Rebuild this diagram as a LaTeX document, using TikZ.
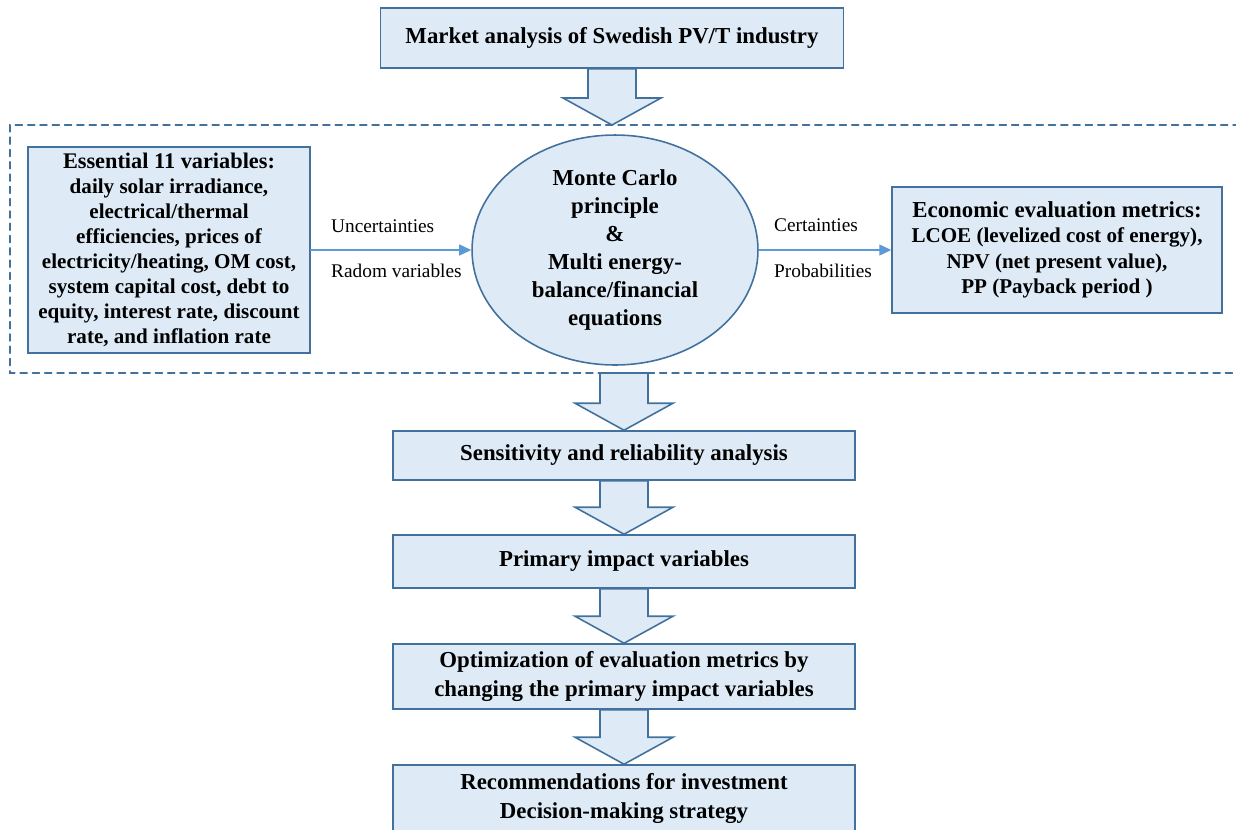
\documentclass[tikz,border=0pt]{standalone}
\usepackage{fontspec}
\setmainfont{Liberation Serif}
\usepackage{tikz}
\usetikzlibrary{arrows.meta}
\usetikzlibrary{shapes.geometric,positioning,calc}

\definecolor{boxfill}{RGB}{222,235,247}
\definecolor{boxline}{RGB}{65,113,156}
\definecolor{linkblue}{RGB}{91,155,213}

\tikzset{
  stepbox/.style={draw=boxline, fill=boxfill, line width=0.9pt, align=center,
    inner sep=2pt, font=\bfseries\fontsize{13}{16.5}\selectfont},
  sidebox/.style={stepbox, font=\bfseries\fontsize{12}{14.2}\selectfont},
  bigarrow/.style={draw=boxline, fill=boxfill, line width=0.9pt, line join=miter},
  link/.style={draw=linkblue, line width=0.8pt, -{Triangle[length=2.4mm,width=2.2mm]}},
  framebox/.style={draw=boxline, line width=0.8pt, dash pattern=on 4pt off 3pt},
  lab/.style={anchor=west, font=\fontsize{11}{13}\selectfont}
}

% block arrow from #1 down to the level of #2
\newcommand{\flowarrow}[2]{%
  \path (#1) coordinate (fa-s) (fa-s |- #2) coordinate (fa-t);
  \draw[bigarrow] ($(fa-s)+(-24,0)$) -- ($(fa-s)+(24,0)$) -- ($(fa-t)+(24,-27)$)
    -- ($(fa-t)+(49,-27)$) -- (fa-t) -- ($(fa-t)+(-49,-27)$)
    -- ($(fa-t)+(-24,-27)$) -- cycle;}

\begin{document}
\begin{tikzpicture}[x=0.02cm, y=-0.02cm, line cap=round]

    \path[use as bounding box, clip] (0,0) rectangle (1236,829);

    % dashed frame round the simulation part
    \coordinate (ftop) at (10,125);
    \coordinate (fbot) at (10,373);
    \draw[framebox] (1240,125) -- (ftop) -- (fbot) -- (1240,373);

    \node[stepbox, minimum width=9.26cm, minimum height=1.2cm] (market) at (612,38)
        {Market analysis of Swedish PV/T industry};

    \node[sidebox, minimum width=5.64cm, minimum height=4.12cm] (vars) at (169,250)
        {{\fontsize{12.7}{15}\selectfont Essential 11 variables:}\\
         daily solar irradiance,\\ electrical/thermal\\ efficiencies, prices of\\
         electricity/heating, OM cost,\\ system capital cost, debt to\\
         equity, interest rate, discount\\ rate, and inflation rate};

    \node[stepbox, ellipse, inner sep=0pt, minimum width=5.72cm, minimum height=4.6cm,
        font=\bfseries\fontsize{13}{16}\selectfont] (mc) at (615,250)
        {Monte Carlo\\ principle\\ \&\\ Multi energy-\\ balance/financial\\ equations};

    \node[sidebox, minimum width=6.6cm, minimum height=2.52cm,
        font=\bfseries\fontsize{12}{14.5}\selectfont] (metrics) at (1057,250)
        {{\fontsize{13}{15}\selectfont Economic evaluation metrics:}\\
         LCOE (levelized cost of energy),\\ NPV (net present value),\\
         PP (Payback period )};

    \draw[link] (vars.east) -- (mc.west);
    \draw[link] (mc.east) -- (metrics.west);

    \node[lab] (unc) at (325,226) {Uncertainties};
    \node[lab] (rad) at (325,271) {Radom variables};
    \node[lab] (cert) at (768,225) {Certainties};
    \node[lab] (prob) at (768,271) {Probabilities};

    \node[stepbox, minimum width=9.24cm, minimum height=0.98cm] (sens) at (624,455.5)
        {Sensitivity and reliability analysis};
    \node[stepbox, minimum width=9.24cm, minimum height=1.06cm] (prim) at (624,561.5)
        {Primary impact variables};
    \node[stepbox, minimum width=9.24cm, minimum height=1.3cm] (opt) at (624,676.5)
        {Optimization of evaluation metrics by\\ changing the primary impact variables};
    \node[stepbox, minimum width=9.24cm, minimum height=1.34cm] (rec) at (624,798.5)
        {Recommendations for investment\\ Decision-making strategy};

    \flowarrow{market.south}{ftop}
    \flowarrow{sens.north |- fbot}{sens.north}
    \flowarrow{sens.south}{prim.north}
    \flowarrow{prim.south}{opt.north}
    \flowarrow{opt.south}{rec.north}

\end{tikzpicture}
\end{document}
